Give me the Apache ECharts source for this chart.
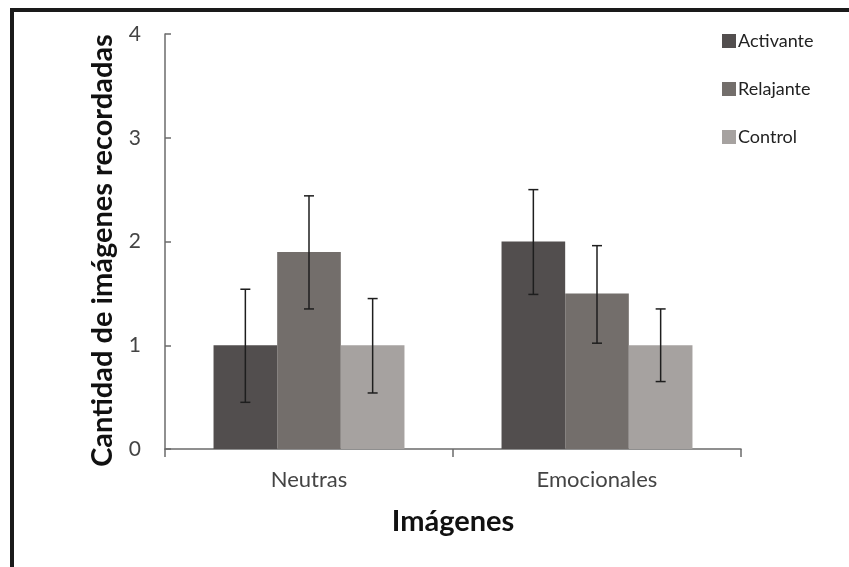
<!DOCTYPE html>
<html>
<head>
<meta charset="utf-8">
<script src="https://cdn.jsdelivr.net/npm/echarts@6/dist/echarts.min.js"></script>
<style>
html,body{margin:0;padding:0;background:#fff;}
#c{width:849px;height:567px;}
</style>
</head>
<body>
<div id="c"></div>
<script>
var categories = ['Neutras', 'Emocionales'];
var seriesNames = ['Activante', 'Relajante', 'Control'];
var activante = [1.0, 2.0];
var relajante = [1.9, 1.5];
var control = [1.0, 1.0];
var activanteErr = [[0.45, 1.54], [1.49, 2.5]];
var relajanteErr = [[1.35, 2.44], [1.02, 1.96]];
var controlErr = [[0.54, 1.45], [0.65, 1.35]];
var yTicks = [0, 1, 2, 3, 4];
var colors = ['#524e4e', '#736e6b', '#a6a2a0'];

var FONT = 'Lato';
var values = [activante, relajante, control];
var errs = [activanteErr, relajanteErr, controlErr];
var GAP = 0.337;

var series = [];
values.forEach(function (v, i) {
  series.push({
    name: seriesNames[i], type: 'bar', data: v,
    barGap: '0%', barCategoryGap: (GAP * 100) + '%',
    itemStyle: { color: colors[i] }, z: 2
  });
});
errs.forEach(function (e, i) {
  series.push({
    type: 'custom', z: 5, silent: true,
    data: e.map(function (d, k) { return [k, d[0], d[1]]; }),
    renderItem: function (params, api) {
      var band = api.size([1, 0])[0];
      var bw = band * (1 - GAP) / 3;
      var cx = api.coord([api.value(0), 0])[0] + (i - 1) * bw;
      var lo = api.coord([api.value(0), api.value(1)])[1];
      var hi = api.coord([api.value(0), api.value(2)])[1];
      var cap = 5;
      var st = { stroke: '#1e1e1e', lineWidth: 1.5 };
      return {
        type: 'group',
        children: [
          { type: 'line', shape: { x1: cx, y1: lo, x2: cx, y2: hi }, style: st },
          { type: 'line', shape: { x1: cx - cap, y1: lo, x2: cx + cap, y2: lo }, style: st },
          { type: 'line', shape: { x1: cx - cap, y1: hi, x2: cx + cap, y2: hi }, style: st }
        ]
      };
    }
  });
});

var chart = echarts.init(document.getElementById('c'), null, { renderer: 'canvas' });
chart.setOption({
  animation: false,
  backgroundColor: '#fff',
  textStyle: { fontFamily: FONT },
  grid: { left: 165, right: 108, top: 34, bottom: 118 },
  legend: {
    data: seriesNames, orient: 'vertical', left: 717, top: 27,
    itemWidth: 14, itemHeight: 14, itemGap: 30, icon: 'rect',
    textStyle: { fontFamily: FONT, fontSize: 18, color: '#222', padding: [0, 0, 0, -3] }
  },
  xAxis: {
    type: 'category', data: categories,
    axisLine: { lineStyle: { color: '#6b6b6b', width: 1.5 } },
    axisTick: { show: true, length: 8, lineStyle: { color: '#6b6b6b', width: 1.5 } },
    axisLabel: { fontFamily: FONT, fontSize: 22, color: '#444', margin: 20 },
    name: 'Imágenes', nameLocation: 'middle', nameGap: 58,
    nameTextStyle: { fontFamily: FONT, fontSize: 29, fontWeight: 'bold', color: '#111' }
  },
  yAxis: {
    type: 'value', min: yTicks[0], max: yTicks[yTicks.length - 1], interval: 1,
    splitLine: { show: false },
    axisLine: { show: true, lineStyle: { color: '#6b6b6b', width: 1.5 } },
    axisTick: { show: true, inside: true, length: 6, lineStyle: { color: '#6b6b6b', width: 1.5 } },
    axisLabel: { fontFamily: FONT, fontSize: 21, color: '#444', margin: 24 },
    name: 'Cantidad de imágenes recordadas', nameLocation: 'middle', nameGap: 48,
    nameTextStyle: { fontFamily: FONT, fontSize: 29, fontWeight: 'bold', color: '#111', padding: [0, 18, 0, 0] }
  },
  graphic: [
    { type: 'rect', shape: { x: 10, y: 8, width: 839, height: 4 }, style: { fill: '#1a1a1a' } },
    { type: 'rect', shape: { x: 10, y: 8, width: 4, height: 559 }, style: { fill: '#1a1a1a' } }
  ],
  series: series
});
</script>
</body>
</html>
